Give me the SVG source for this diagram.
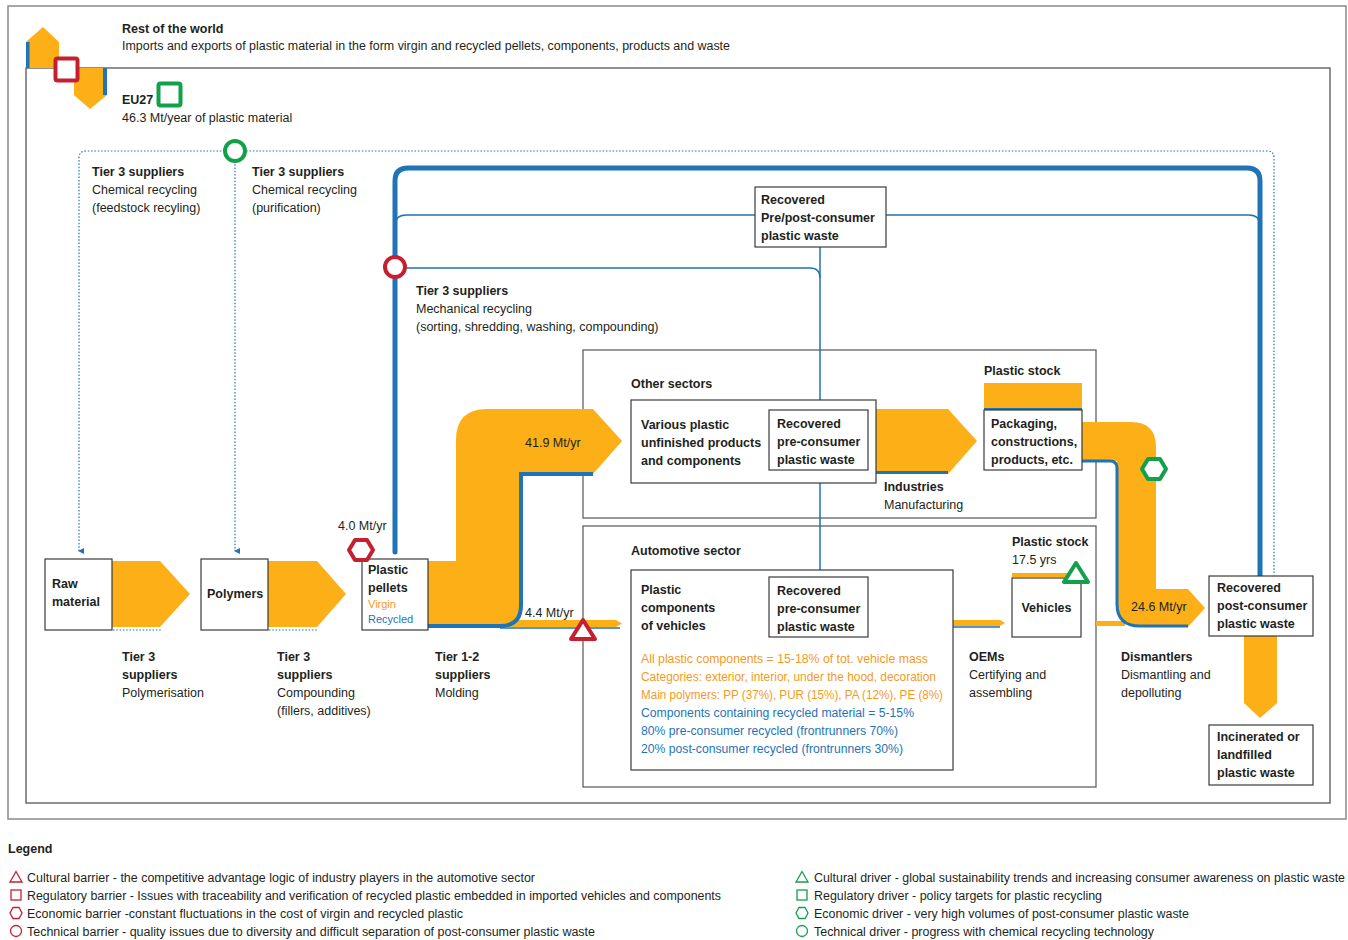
<svg xmlns="http://www.w3.org/2000/svg" width="1348" height="940" viewBox="0 0 1348 940">
<style>
text{font-family:"Liberation Sans Narrow","Liberation Sans",Arial,sans-serif;font-size:12.5px;fill:#231f20}
.b{font-weight:bold}
.o{fill:#f39a1e}
.bl{fill:#1f73b7}
.sm{font-size:11px}
.box{fill:#fff;stroke:#3a3a3a;stroke-width:1.2}
.frame{fill:none;stroke:#555;stroke-width:1.2}
.or{fill:#fcaf17}
.bline{fill:none;stroke:#1f73b7}
.dot{fill:none;stroke:#1f73b7;stroke-width:1.2;stroke-dasharray:1.5 1.8}
.red{fill:#fff;stroke:#c4202f;stroke-width:4;stroke-linejoin:round}
.grn{fill:#fff;stroke:#10a14a;stroke-width:4;stroke-linejoin:round}
.lr{fill:none;stroke:#c4202f;stroke-width:1.3}
.lg{fill:none;stroke:#10a14a;stroke-width:1.3}
</style>
<defs>
<marker id="ah" viewBox="0 0 6 6" refX="3" refY="5" markerWidth="5" markerHeight="5" orient="auto-start-reverse"><path d="M0,0 L6,0 L3,6 Z" fill="#1f73b7"/></marker>
<polygon id="hex" points="-12,0 -6,-10 6,-10 12,0 6,10 -6,10"/>
<polygon id="tri" points="0,-10 12,9 -12,9"/>
<polygon id="lhex" points="-6,0 -3,-5.5 3,-5.5 6,0 3,5.5 -3,5.5"/>
<polygon id="ltri" points="0,-5.5 6,5 -6,5"/>
</defs>
<rect width="1348" height="940" fill="#fff"/>

<g id="frames">
<rect x="8" y="6" width="1338" height="813" fill="none" stroke="#8a8a8a" stroke-width="1.5"/>
<rect x="26" y="68" width="1304" height="735" fill="none" stroke="#555" stroke-width="1.3"/>
<rect class="frame" x="583" y="350" width="513" height="168" stroke="#666"/>
<rect class="frame" x="583" y="526" width="513" height="261" stroke="#333"/>
</g>

<g id="rotw-icon">
<polygon class="or" points="26,42 43,27 59,42 59,68 26,68"/>
<rect x="26" y="42" width="3.5" height="26" fill="#1f73b7"/>
<polygon class="or" points="74,68 107,68 107,95 90,109 74,95"/>
<rect x="103" y="68" width="4" height="27" fill="#1f73b7"/>
<rect x="55.5" y="58.5" width="22" height="22" rx="2" class="red" stroke-width="3.5"/>
</g>

<g id="header-text">
<text x="122" y="33" class="b">Rest of the world</text>
<text x="122" y="50" textLength="608" lengthAdjust="spacingAndGlyphs">Imports and exports of plastic material in the form virgin and recycled pellets, components, products and waste</text>
<text x="122" y="104" class="b">EU27</text>
<rect x="158.5" y="83.5" width="22" height="22" rx="2" class="grn" stroke-width="3.5"/>
<text x="122" y="122">46.3 Mt/year of plastic material</text>
</g>

<g id="connectors">
<path class="dot" d="M79,551 V158 Q79,151 86,151 H1267 Q1274,151 1274,158 V575" marker-start="url(#ah)"/>
<path class="dot" d="M235,151 V551" marker-end="url(#ah)"/>
<path class="dot" d="M113,630 H162"/>
<path class="dot" d="M269,630 H317"/>
<path class="bline" stroke-width="5" stroke-linecap="round" d="M395,552 V181 Q395,168 408,168 H1247 Q1260,168 1260,181 V576"/>
<path class="bline" stroke-width="1.5" d="M395,226 Q395,215 406,215 H1249 Q1260,215 1260,226"/>
<path class="bline" stroke-width="1.5" d="M395,268 H810 Q820,268 820,278"/>
<path class="bline" stroke-width="1.5" d="M820,247 V577"/>
<polygon class="or" points="112,561 160,561 190,594 160,627 112,627"/>
<polygon class="or" points="268,561 317,561 346,594 317,627 268,627"/>
<path class="or" d="M428,561 H456 V440 Q456,409 487,409 H593 L622,441 L593,474 H521 V606 Q521,627 500,627 H428 Z"/>
<path class="or" d="M495,620 H616 L622,623.5 L616,627 H495 Z"/>
<path class="bline" stroke-width="4" d="M428,626 H500 Q521,626 521,605 V474 H593"/>
<path class="bline" stroke-width="1.5" d="M500,628 H620"/>
<path class="or" d="M876,409 H948 L977,441 L948,474 H876 Z"/>
<path class="bline" stroke-width="3" d="M876,472.5 H948"/>
<rect class="or" x="984" y="383" width="98" height="26"/>
<path class="bline" stroke-width="2" d="M984,409 H1082"/>
<path class="or" d="M1082,422 H1131 Q1156,422 1156,447 V589 H1188 L1205,608 L1188,627 H1140 Q1117,627 1117,604 V461 H1082 Z"/>
<path class="or" d="M1096,621 H1125 V626 H1096 Z"/>
<path class="bline" stroke-width="3" d="M1082,461 H1110 Q1117,461 1117,468 V604 Q1117,626 1140,626 H1188"/>
<path class="or" d="M953,620 H1000 L1005,623 L1000,626 H953 Z"/>
<path class="bline" stroke-width="1.5" d="M953,627 H1000"/>
<rect class="or" x="1012" y="573" width="63" height="4"/>
<path class="or" d="M1244,636 H1277 V703 L1260,718 L1244,703 Z"/>
</g>

<g id="tier3-chem">
<text x="92" y="176" class="b">Tier 3 suppliers</text>
<text x="92" y="194">Chemical recycling</text>
<text x="92" y="212">(feedstock recyling)</text>
<text x="252" y="176" class="b">Tier 3 suppliers</text>
<text x="252" y="194">Chemical recycling</text>
<text x="252" y="212">(purification)</text>
</g>

<g id="recovered-prepost">
<rect class="box" x="755" y="187" width="131" height="60"/>
<text x="761" y="204" class="b">Recovered</text>
<text x="761" y="222" class="b">Pre/post-consumer</text>
<text x="761" y="240" class="b">plastic waste</text>
</g>

<g id="tier3-mech">
<text x="416" y="295" class="b">Tier 3 suppliers</text>
<text x="416" y="313">Mechanical recycling</text>
<text x="416" y="331">(sorting, shredding, washing, compounding)</text>
</g>

<g id="raw-material">
<rect class="box" x="45" y="559" width="67" height="71"/>
<text x="52" y="588" class="b">Raw</text>
<text x="52" y="606" class="b">material</text>
<text x="122" y="661" class="b">Tier 3</text>
<text x="122" y="679" class="b">suppliers</text>
<text x="122" y="697">Polymerisation</text>
</g>

<g id="polymers">
<rect class="box" x="201" y="559" width="67" height="71"/>
<text x="207" y="598" class="b">Polymers</text>
<text x="277" y="661" class="b">Tier 3</text>
<text x="277" y="679" class="b">suppliers</text>
<text x="277" y="697">Compounding</text>
<text x="277" y="715">(fillers, additives)</text>
</g>

<g id="plastic-pellets">
<rect class="box" x="362" y="559" width="66" height="71"/>
<text x="368" y="574" class="b">Plastic</text>
<text x="368" y="592" class="b">pellets</text>
<text x="368" y="608" class="o sm">Virgin</text>
<text x="368" y="623" class="bl sm">Recycled</text>
<text x="338" y="530">4.0 Mt/yr</text>
<text x="435" y="661" class="b">Tier 1-2</text>
<text x="435" y="679" class="b">suppliers</text>
<text x="435" y="697">Molding</text>
<text x="525" y="447">41.9 Mt/yr</text>
<text x="525" y="617">4.4 Mt/yr</text>
</g>

<g id="other-sectors">
<text x="631" y="388" class="b">Other sectors</text>
<rect class="box" x="631" y="400" width="245" height="83"/>
<text x="641" y="429" class="b">Various plastic</text>
<text x="641" y="447" class="b">unfinished products</text>
<text x="641" y="465" class="b">and components</text>
</g>

<g id="recovered-pre-other">
<rect class="box" x="769" y="410" width="99" height="60"/>
<text x="777" y="428" class="b">Recovered</text>
<text x="777" y="446" class="b">pre-consumer</text>
<text x="777" y="464" class="b">plastic waste</text>
<text x="884" y="491" class="b">Industries</text>
<text x="884" y="509">Manufacturing</text>
</g>

<g id="packaging">
<text x="984" y="375" class="b">Plastic stock</text>
<rect class="box" x="984" y="410" width="98" height="60"/>
<text x="991" y="428" class="b">Packaging,</text>
<text x="991" y="446" class="b">constructions,</text>
<text x="991" y="464" class="b">products, etc.</text>
</g>

<g id="automotive">
<text x="631" y="555" class="b">Automotive sector</text>
<rect class="box" x="631" y="570" width="322" height="200"/>
<text x="641" y="594" class="b">Plastic</text>
<text x="641" y="612" class="b">components</text>
<text x="641" y="630" class="b">of vehicles</text>
<text x="641" y="663" class="o" textLength="287" lengthAdjust="spacingAndGlyphs">All plastic components = 15-18% of tot. vehicle mass</text>
<text x="641" y="681" class="o" textLength="295" lengthAdjust="spacingAndGlyphs">Categories: exterior, interior, under the hood, decoration</text>
<text x="641" y="699" class="o" textLength="302" lengthAdjust="spacingAndGlyphs">Main polymers: PP (37%), PUR (15%), PA (12%), PE (8%)</text>
<text x="641" y="717" class="bl" textLength="273" lengthAdjust="spacingAndGlyphs">Components containing recycled material = 5-15%</text>
<text x="641" y="735" class="bl" textLength="257" lengthAdjust="spacingAndGlyphs">80% pre-consumer recycled (frontrunners 70%)</text>
<text x="641" y="753" class="bl" textLength="262" lengthAdjust="spacingAndGlyphs">20% post-consumer recycled (frontrunners 30%)</text>
</g>

<g id="recovered-pre-auto">
<rect class="box" x="769" y="577" width="99" height="60"/>
<text x="777" y="595" class="b">Recovered</text>
<text x="777" y="613" class="b">pre-consumer</text>
<text x="777" y="631" class="b">plastic waste</text>
</g>

<g id="vehicles">
<text x="1012" y="546" class="b">Plastic stock</text>
<text x="1012" y="564">17.5 yrs</text>
<rect class="box" x="1012" y="578" width="69" height="59"/>
<text x="1046.5" y="612" class="b" text-anchor="middle">Vehicles</text>
<text x="969" y="661" class="b">OEMs</text>
<text x="969" y="679">Certifying and</text>
<text x="969" y="697">assembling</text>
</g>

<g id="dismantlers">
<text x="1131" y="611">24.6 Mt/yr</text>
<text x="1121" y="661" class="b">Dismantlers</text>
<text x="1121" y="679">Dismantling and</text>
<text x="1121" y="697">depolluting</text>
</g>

<g id="recovered-post">
<rect class="box" x="1209" y="576" width="104" height="60"/>
<text x="1217" y="592" class="b">Recovered</text>
<text x="1217" y="610" class="b">post-consumer</text>
<text x="1217" y="628" class="b">plastic waste</text>
</g>

<g id="incinerated">
<rect class="box" x="1209" y="725" width="104" height="60"/>
<text x="1217" y="741" class="b">Incinerated or</text>
<text x="1217" y="759" class="b">landfilled</text>
<text x="1217" y="777" class="b">plastic waste</text>
</g>

<g id="markers">
<circle class="grn" cx="235" cy="151" r="10"/>
<circle class="red" cx="395" cy="267" r="10"/>
<use href="#hex" class="red" x="361" y="550"/>
<use href="#tri" class="red" x="583" y="630"/>
<use href="#hex" class="grn" x="1154" y="469"/>
<use href="#tri" class="grn" x="1076" y="573"/>
</g>

<g id="legend">
<text x="8" y="853" class="b">Legend</text>
<use href="#ltri" class="lr" x="16" y="877"/>
<rect class="lr" x="11" y="890" width="10" height="10"/>
<use href="#lhex" class="lr" x="16" y="913"/>
<circle class="lr" cx="16" cy="931" r="5.5"/>
<text x="27" y="882" textLength="508" lengthAdjust="spacingAndGlyphs">Cultural barrier - the competitive advantage logic of industry players in the automotive sector</text>
<text x="27" y="900" textLength="694" lengthAdjust="spacingAndGlyphs">Regulatory barrier - Issues with traceability and verification of recycled plastic embedded in imported vehicles and components</text>
<text x="27" y="918" textLength="436" lengthAdjust="spacingAndGlyphs">Economic barrier -constant fluctuations in the cost of virgin and recycled plastic</text>
<text x="27" y="936" textLength="568" lengthAdjust="spacingAndGlyphs">Technical barrier - quality issues due to diversity and difficult separation of post-consumer plastic waste</text>
<use href="#ltri" class="lg" x="802" y="877"/>
<rect class="lg" x="797" y="890" width="10" height="10"/>
<use href="#lhex" class="lg" x="802" y="913"/>
<circle class="lg" cx="802" cy="931" r="5.5"/>
<text x="814" y="882" textLength="531" lengthAdjust="spacingAndGlyphs">Cultural driver - global sustainability trends and increasing consumer awareness on plastic waste</text>
<text x="814" y="900" textLength="288" lengthAdjust="spacingAndGlyphs">Regulatory driver - policy targets for plastic recycling</text>
<text x="814" y="918" textLength="375" lengthAdjust="spacingAndGlyphs">Economic driver - very high volumes of post-consumer plastic waste</text>
<text x="814" y="936" textLength="340" lengthAdjust="spacingAndGlyphs">Technical driver - progress with chemical recycling technology</text>
</g>
</svg>
